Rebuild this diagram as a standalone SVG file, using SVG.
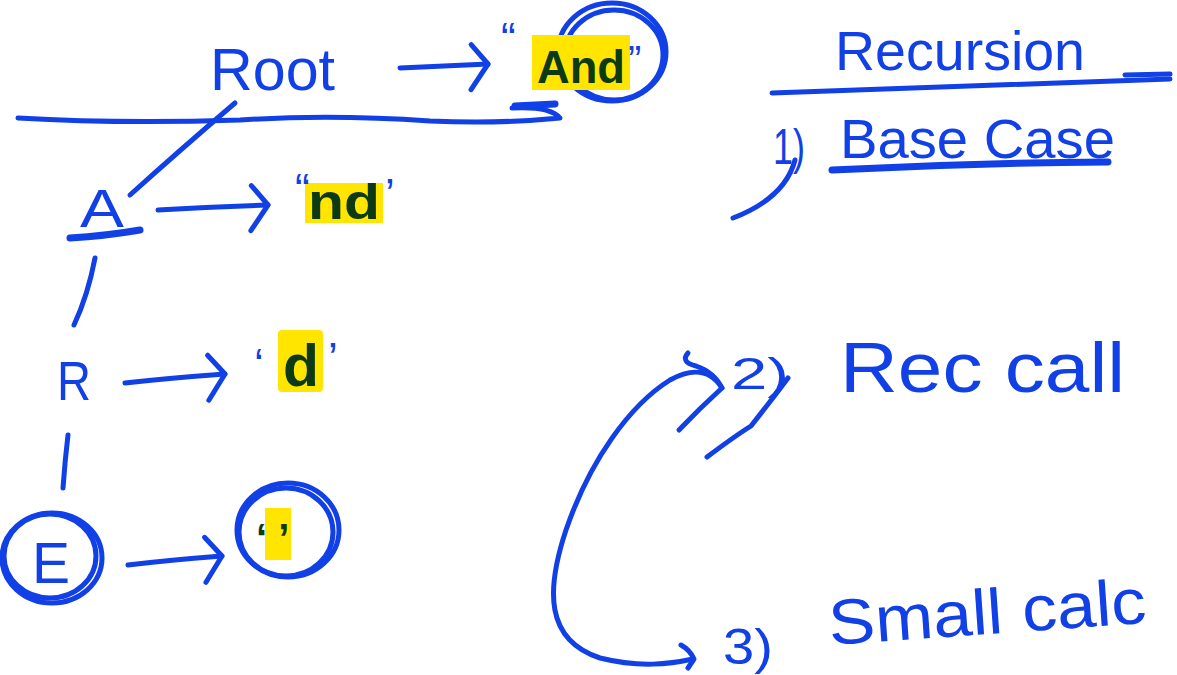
<svg xmlns="http://www.w3.org/2000/svg" width="1177" height="675" viewBox="0 0 1177 675">
<style>
.ink{fill:none;stroke:#1040e6;stroke-width:5;stroke-linecap:round;stroke-linejoin:round}
.thick{stroke-width:7}
.t{font-family:"Liberation Sans","DejaVu Sans",sans-serif;fill:#1040e6}
.g{font-family:"Liberation Sans","DejaVu Sans",sans-serif;fill:#0b3a14;font-weight:bold}
.hl{fill:#ffe500}
</style>
<defs>
<marker id="ah" markerUnits="userSpaceOnUse" markerWidth="40" markerHeight="60" refX="30" refY="30" orient="auto" viewBox="0 0 40 60">
<path d="M14,10 L30,30 L12,55" fill="none" stroke="#1040e6" stroke-width="5" stroke-linecap="round" stroke-linejoin="round"/>
</marker>
</defs>
<rect width="1177" height="675" fill="#ffffff"/>

<g id="connectors">
<path class="ink" d="M400,68 Q440,66 488,64" marker-end="url(#ah)"/>
<path class="ink" d="M18,118 Q120,124 240,120 Q330,114 430,121 Q500,124 560,118 Q550,106 512,108"/>
<path class="ink thick" d="M515,106 L555,104"/>
<path class="ink" d="M235,103 Q180,150 130,195"/>
<path class="ink" d="M158,210 Q210,207 268,205" marker-end="url(#ah)"/>
<path class="ink" d="M95,258 Q88,295 74,325"/>
<path class="ink" d="M125,383 Q170,378 225,374" marker-end="url(#ah)"/>
<path class="ink" d="M68,435 Q65,460 63,488"/>
<path class="ink" d="M128,565 Q170,560 222,556" marker-end="url(#ah)"/>
<path class="ink" d="M795,160 Q785,198 733,218"/>
<path class="ink" d="M722,388 C712,372 695,366 670,380 C630,405 590,460 566,530 C546,590 545,640 600,658 C640,668 670,664 693,659"/>
<path class="ink" d="M681,645 Q690,650 694,659 L688,668"/>
<path class="ink" d="M688,353 Q680,362 696,366 Q714,372 722,388 Q700,408 679,430"/>
<path class="ink" d="M707,457 Q735,436 751,426 Q770,402 788,378"/>
</g>

<g id="root"><text class="t" x="210" y="90" font-size="60" textLength="125" lengthAdjust="spacingAndGlyphs">Root</text></g>

<g id="and">
<ellipse class="ink" cx="612" cy="52" rx="54" ry="49"/>
<ellipse class="ink" cx="614" cy="55" rx="49" ry="45" stroke-width="3"/>
<rect class="hl" x="532" y="35" width="98" height="55"/>
<text class="t" x="501" y="54" font-size="44">“</text>
<text class="g" x="537" y="83" font-size="46" textLength="88" lengthAdjust="spacingAndGlyphs">And</text>
<text class="t" x="628" y="74" font-size="40">”</text>
</g>

<g id="A">
<text class="t" x="80" y="227" font-size="54" textLength="44" lengthAdjust="spacingAndGlyphs">A</text>
<path class="ink thick" d="M70,238 Q105,236 140,230"/>
</g>

<g id="nd">
<rect class="hl" x="305" y="183" width="78" height="40"/>
<text class="t" x="295" y="205" font-size="44">“</text>
<text class="g" x="308" y="219" font-size="50" textLength="72" lengthAdjust="spacingAndGlyphs">nd</text>
<text class="t" x="385" y="210" font-size="44">’</text>
</g>

<g id="R"><text class="t" x="57" y="400" font-size="56" textLength="34" lengthAdjust="spacingAndGlyphs">R</text></g>

<g id="d">
<rect class="hl" x="278" y="330" width="45" height="62" rx="4"/>
<text class="t" x="254" y="380" font-size="44">‘</text>
<text class="g" x="283" y="386" font-size="60" textLength="36" lengthAdjust="spacingAndGlyphs">d</text>
<text class="t" x="328" y="374" font-size="44">’</text>
</g>

<g id="E">
<ellipse class="ink" cx="52" cy="558" rx="50" ry="45"/>
<ellipse class="ink" cx="50" cy="556" rx="46" ry="42" stroke-width="3"/>
<text class="t" x="32" y="583" font-size="58" textLength="38" lengthAdjust="spacingAndGlyphs">E</text>
</g>

<g id="empty">
<ellipse class="ink" cx="288" cy="530" rx="51" ry="47"/>
<ellipse class="ink" cx="286" cy="532" rx="47" ry="44" stroke-width="3"/>
<rect class="hl" x="265" y="508" width="26" height="52"/>
<text class="g" x="256" y="552" font-size="40">‘ ’</text>
</g>

<g id="title">
<text class="t" x="835" y="70" font-size="56" textLength="250" lengthAdjust="spacingAndGlyphs">Recursion</text>
<path class="ink" d="M772,93 Q970,86 1170,79"/>
<path class="ink" d="M1125,75 L1170,74"/>
</g>

<g id="base">
<text class="t" x="773" y="164" font-size="50" textLength="32" lengthAdjust="spacingAndGlyphs">1)</text>
<text class="t" x="840" y="158" font-size="56" textLength="275" lengthAdjust="spacingAndGlyphs">Base Case</text>
<path class="ink thick" d="M832,170 Q970,163 1108,162"/>
</g>

<g id="rec">
<text class="t" x="731" y="389" font-size="44" textLength="58" lengthAdjust="spacingAndGlyphs">2)</text>
<text class="t" x="840" y="392" font-size="70" textLength="285" lengthAdjust="spacingAndGlyphs">Rec call</text>
</g>

<g id="small">
<text class="t" x="723" y="664" font-size="50" textLength="50" lengthAdjust="spacingAndGlyphs">3)</text>
<text class="t" x="830" y="645" font-size="64" textLength="318" lengthAdjust="spacingAndGlyphs" transform="rotate(-4 830 645)">Small calc</text>
</g>
</svg>
